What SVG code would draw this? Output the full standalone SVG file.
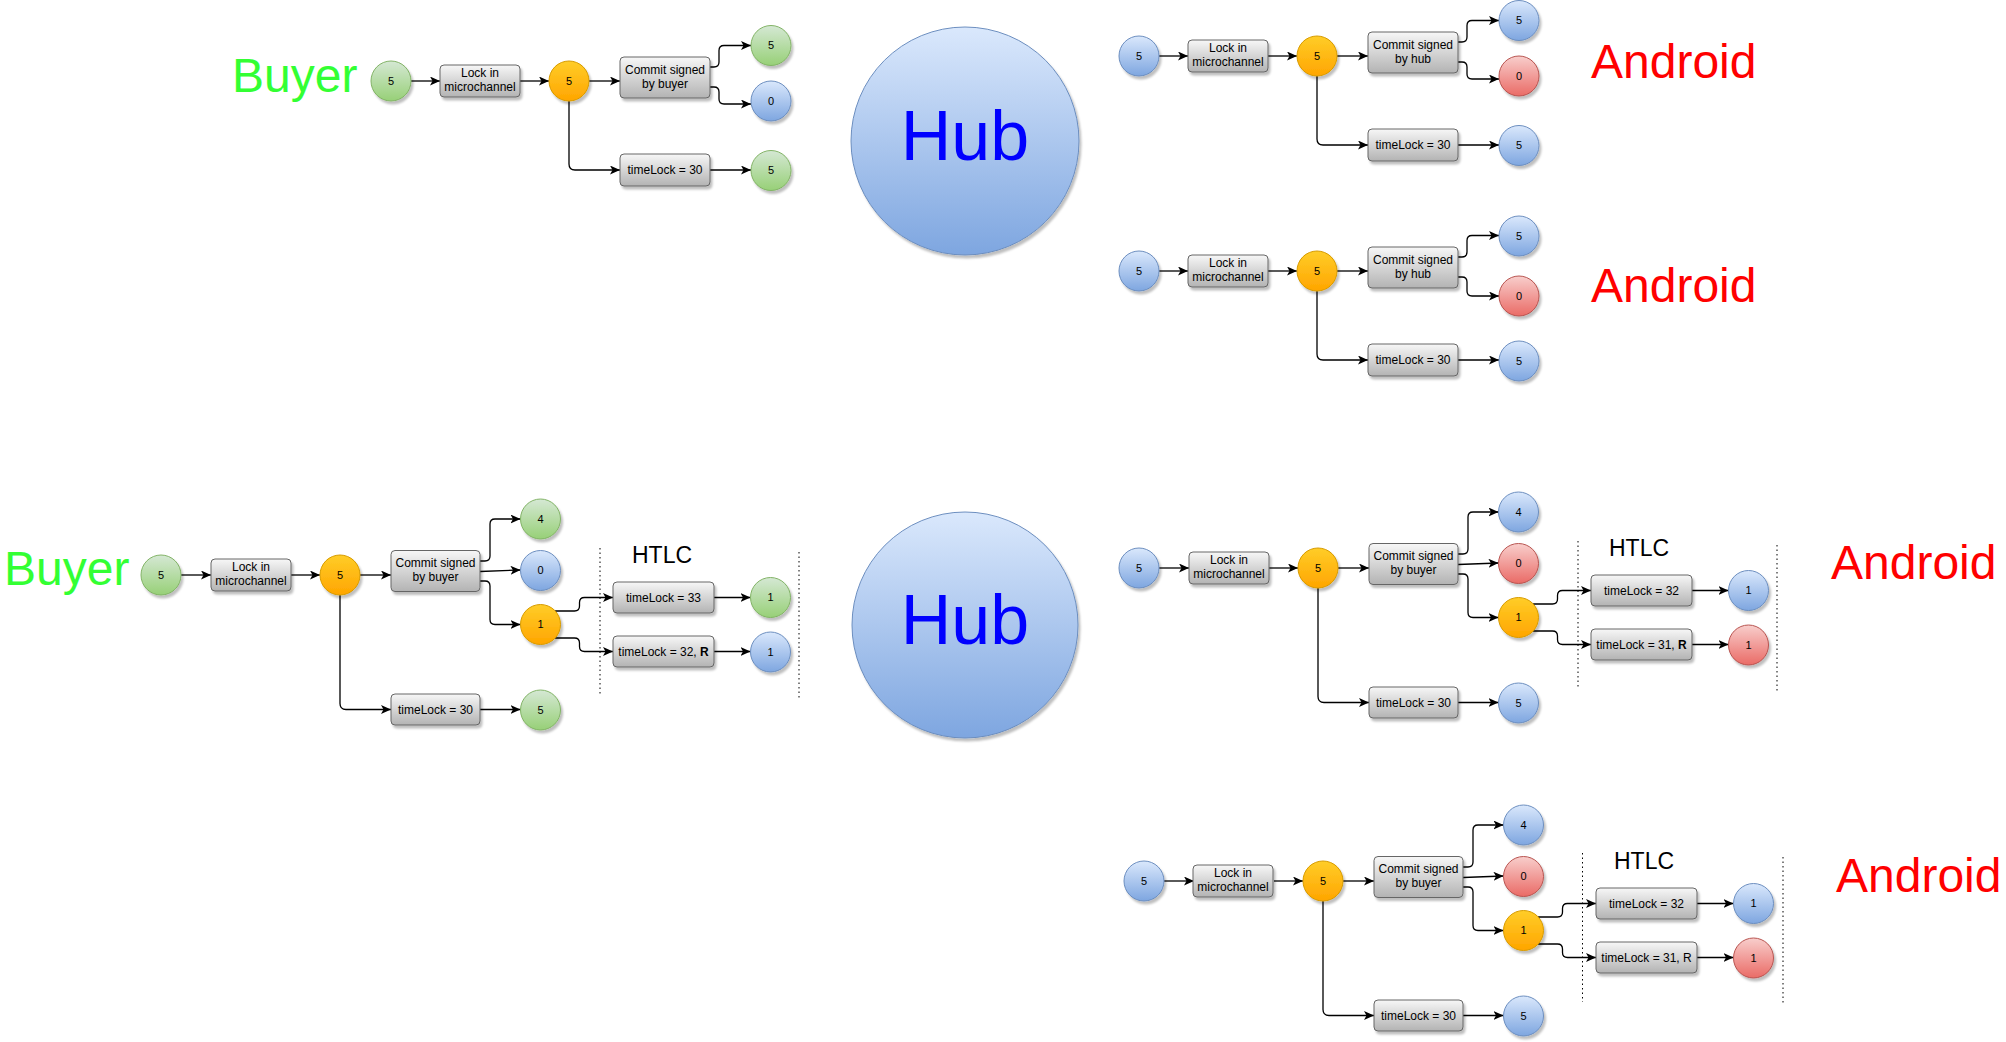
<svg xmlns="http://www.w3.org/2000/svg" width="2006" height="1042" viewBox="0 0 2006 1042">
<defs>
<linearGradient id="gGreen" x1="0" y1="0" x2="0" y2="1"><stop offset="0" stop-color="#d5e8d4"/><stop offset="1" stop-color="#97d077"/></linearGradient>
<linearGradient id="gBlue" x1="0" y1="0" x2="0" y2="1"><stop offset="0" stop-color="#dae8fc"/><stop offset="1" stop-color="#7ea6e0"/></linearGradient>
<linearGradient id="gRed" x1="0" y1="0" x2="0" y2="1"><stop offset="0" stop-color="#f8cecc"/><stop offset="1" stop-color="#ea6b66"/></linearGradient>
<linearGradient id="gOrange" x1="0" y1="0" x2="0" y2="1"><stop offset="0" stop-color="#ffcd28"/><stop offset="1" stop-color="#ffa500"/></linearGradient>
<linearGradient id="gGray" x1="0" y1="0" x2="0" y2="1"><stop offset="0" stop-color="#f7f7f7"/><stop offset="1" stop-color="#b3b3b3"/></linearGradient>
<filter id="sh" x="-20%" y="-20%" width="150%" height="150%"><feDropShadow dx="2" dy="3" stdDeviation="1.2" flood-color="#000" flood-opacity="0.25"/></filter>
<marker id="arr" markerUnits="userSpaceOnUse" markerWidth="11" markerHeight="9" refX="10" refY="4.5" orient="auto"><path d="M0,0 L10,4.5 L0,9 L2.5,4.5 Z" fill="#000"/></marker>
<style>
text{font-family:"Liberation Sans",Arial,Helvetica,sans-serif;fill:#000}
.e{fill:none;stroke:#000;stroke-width:1.3;marker-end:url(#arr)}
.e0{fill:none;stroke:#000;stroke-width:1.3}
.dot{fill:none;stroke:#000;stroke-width:1;stroke-dasharray:1.5 3}
.box{fill:url(#gGray);stroke:#666;stroke-width:1;filter:url(#sh)}
.gr{fill:url(#gGreen);stroke:#82b366;stroke-width:1;filter:url(#sh)}
.bl{fill:url(#gBlue);stroke:#6c8ebf;stroke-width:1;filter:url(#sh)}
.rd{fill:url(#gRed);stroke:#b85450;stroke-width:1;filter:url(#sh)}
.or{fill:url(#gOrange);stroke:#d79b00;stroke-width:1;filter:url(#sh)}
.ct{font-size:11px;text-anchor:middle}
.bt{font-size:12px;text-anchor:middle}
.big{font-size:48px}
.buyer{fill:#33ff33}
.android{fill:#ff0000}
.hub{font-size:70px;fill:#0000ff;text-anchor:middle}
.htlc{font-size:23px}
</style>
</defs>
<rect width="2006" height="1042" fill="#ffffff"/>

<!-- Labels -->
<g id="labels">
<text class="big buyer" x="232" y="92">Buyer</text>
<text class="big buyer" x="4" y="585">Buyer</text>
<text class="big android" x="1591" y="78">Android</text>
<text class="big android" x="1591" y="302">Android</text>
<text class="big android" x="1831" y="579">Android</text>
<text class="big android" x="1836" y="892">Android</text>
</g>

<!-- Hubs -->
<g id="hub-top"><circle class="bl" cx="965" cy="141" r="114"/><text class="hub" x="965" y="160">Hub</text></g>
<g id="hub-bottom"><circle class="bl" cx="965" cy="625" r="113"/><text class="hub" x="965" y="644">Hub</text></g>

<!-- Panel: Buyer top -->
<g id="panel-buyer-top" transform="translate(391,81)">
<g id="bt-connectors">
<path class="e" d="M20,0 H49"/>
<path class="e" d="M129,0 H158"/>
<path class="e" d="M198,0 H229"/>
<path class="e" d="M319,-14 H323 Q328,-14 328,-19 V-30.5 Q328,-35.5 333,-35.5 H360"/>
<path class="e" d="M319,6 H323 Q328,6 328,11 V18 Q328,23 333,23 H360"/>
<path class="e" d="M178,20 V83 Q178,89 184,89 H229"/>
<path class="e" d="M319,89 H360"/>
</g>
<g id="bt-start"><circle class="gr" cx="0" cy="0" r="20"/><text class="ct" x="0" y="3.5">5</text></g>
<g id="bt-lock"><rect class="box" x="49" y="-16" width="80" height="32" rx="4"/><text class="bt" x="89" y="-4">Lock in</text><text class="bt" x="89" y="10">microchannel</text></g>
<g id="bt-mid"><circle class="or" cx="178" cy="0" r="20"/><text class="ct" x="178" y="3.5">5</text></g>
<g id="bt-commit"><rect class="box" x="229" y="-24" width="90" height="41" rx="4"/><text class="bt" x="274" y="-7.5">Commit signed</text><text class="bt" x="274" y="6.5">by buyer</text></g>
<g id="bt-out1"><circle class="gr" cx="380" cy="-35.5" r="20"/><text class="ct" x="380" y="-32">5</text></g>
<g id="bt-out2"><circle class="bl" cx="380" cy="20" r="20"/><text class="ct" x="380" y="23.5">0</text></g>
<g id="bt-timelock"><rect class="box" x="229" y="73" width="90" height="32" rx="4"/><text class="bt" x="274" y="93">timeLock = 30</text></g>
<g id="bt-out3"><circle class="gr" cx="380" cy="89.5" r="20"/><text class="ct" x="380" y="93">5</text></g>
</g>

<!-- Panel: Android 1 -->
<g id="panel-android-1" transform="translate(1139,56)">
<g id="a1-connectors">
<path class="e" d="M20,0 H49"/>
<path class="e" d="M129,0 H158"/>
<path class="e" d="M198,0 H229"/>
<path class="e" d="M319,-14 H323 Q328,-14 328,-19 V-30.5 Q328,-35.5 333,-35.5 H360"/>
<path class="e" d="M319,6 H323 Q328,6 328,11 V18 Q328,23 333,23 H360"/>
<path class="e" d="M178,20 V83 Q178,89 184,89 H229"/>
<path class="e" d="M319,89 H360"/>
</g>
<g id="a1-start"><circle class="bl" cx="0" cy="0" r="20"/><text class="ct" x="0" y="3.5">5</text></g>
<g id="a1-lock"><rect class="box" x="49" y="-16" width="80" height="32" rx="4"/><text class="bt" x="89" y="-4">Lock in</text><text class="bt" x="89" y="10">microchannel</text></g>
<g id="a1-mid"><circle class="or" cx="178" cy="0" r="20"/><text class="ct" x="178" y="3.5">5</text></g>
<g id="a1-commit"><rect class="box" x="229" y="-24" width="90" height="41" rx="4"/><text class="bt" x="274" y="-7.5">Commit signed</text><text class="bt" x="274" y="6.5">by hub</text></g>
<g id="a1-out1"><circle class="bl" cx="380" cy="-35.5" r="20"/><text class="ct" x="380" y="-32">5</text></g>
<g id="a1-out2"><circle class="rd" cx="380" cy="20" r="20"/><text class="ct" x="380" y="23.5">0</text></g>
<g id="a1-timelock"><rect class="box" x="229" y="73" width="90" height="32" rx="4"/><text class="bt" x="274" y="93">timeLock = 30</text></g>
<g id="a1-out3"><circle class="bl" cx="380" cy="89.5" r="20"/><text class="ct" x="380" y="93">5</text></g>
</g>

<!-- Panel: Android 2 -->
<g id="panel-android-2" transform="translate(1139,271)">
<g id="a2-connectors">
<path class="e" d="M20,0 H49"/>
<path class="e" d="M129,0 H158"/>
<path class="e" d="M198,0 H229"/>
<path class="e" d="M319,-14 H323 Q328,-14 328,-19 V-30.5 Q328,-35.5 333,-35.5 H360"/>
<path class="e" d="M319,6 H323 Q328,6 328,11 V20 Q328,25 333,25 H360"/>
<path class="e" d="M178,20 V83 Q178,89 184,89 H229"/>
<path class="e" d="M319,89 H360"/>
</g>
<g id="a2-start"><circle class="bl" cx="0" cy="0" r="20"/><text class="ct" x="0" y="3.5">5</text></g>
<g id="a2-lock"><rect class="box" x="49" y="-16" width="80" height="32" rx="4"/><text class="bt" x="89" y="-4">Lock in</text><text class="bt" x="89" y="10">microchannel</text></g>
<g id="a2-mid"><circle class="or" cx="178" cy="0" r="20"/><text class="ct" x="178" y="3.5">5</text></g>
<g id="a2-commit"><rect class="box" x="229" y="-24" width="90" height="41" rx="4"/><text class="bt" x="274" y="-7.5">Commit signed</text><text class="bt" x="274" y="6.5">by hub</text></g>
<g id="a2-out1"><circle class="bl" cx="380" cy="-35" r="20"/><text class="ct" x="380" y="-31.5">5</text></g>
<g id="a2-out2"><circle class="rd" cx="380" cy="25" r="20"/><text class="ct" x="380" y="28.5">0</text></g>
<g id="a2-timelock"><rect class="box" x="229" y="73" width="90" height="32" rx="4"/><text class="bt" x="274" y="93">timeLock = 30</text></g>
<g id="a2-out3"><circle class="bl" cx="380" cy="90" r="20"/><text class="ct" x="380" y="93.5">5</text></g>
</g>

<!-- Panel: Buyer bottom (HTLC) -->
<g id="panel-buyer-bottom" transform="translate(161,575)">
<g id="bb-connectors">
<path class="e" d="M20,0 H50"/>
<path class="e" d="M130,0 H159"/>
<path class="e" d="M199,0 H230"/>
<path class="e" d="M319,-14 H324 Q329,-14 329,-19 V-51 Q329,-56 334,-56 H359.5"/>
<path class="e" d="M319,-3.5 L359.5,-5"/>
<path class="e" d="M319,6 H324 Q329,6 329,11 V44.5 Q329,49.5 334,49.5 H359.5"/>
<path class="e" d="M394,36 H413.5 Q418.5,36 418.5,31 V27.5 Q418.5,22.5 423.5,22.5 H452"/>
<path class="e" d="M394,63 H413.5 Q418.5,63 418.5,68 V71.5 Q418.5,76.5 423.5,76.5 H452"/>
<path class="e" d="M553,22.5 H589.5"/>
<path class="e" d="M553,76.5 H589.5"/>
<path class="e" d="M179,20 V128.5 Q179,134.5 185,134.5 H230"/>
<path class="e" d="M319,134.5 H359.5"/>
</g>
<g id="bb-htlc"><path class="dot" d="M439,-27 V120"/><path class="dot" d="M638,-23 V123"/><text class="htlc" x="471" y="-12">HTLC</text></g>
<g id="bb-start"><circle class="gr" cx="0" cy="0" r="20"/><text class="ct" x="0" y="3.5">5</text></g>
<g id="bb-lock"><rect class="box" x="50" y="-16" width="80" height="32" rx="4"/><text class="bt" x="90" y="-4">Lock in</text><text class="bt" x="90" y="10">microchannel</text></g>
<g id="bb-mid"><circle class="or" cx="179" cy="0" r="20"/><text class="ct" x="179" y="3.5">5</text></g>
<g id="bb-commit"><rect class="box" x="230" y="-24.5" width="89" height="41" rx="4"/><text class="bt" x="274.5" y="-8">Commit signed</text><text class="bt" x="274.5" y="6">by buyer</text></g>
<g id="bb-out4"><circle class="gr" cx="379.5" cy="-56" r="20"/><text class="ct" x="379.5" y="-52.5">4</text></g>
<g id="bb-out0"><circle class="bl" cx="379.5" cy="-4.5" r="20"/><text class="ct" x="379.5" y="-1">0</text></g>
<g id="bb-out1"><circle class="or" cx="379.5" cy="49.5" r="20"/><text class="ct" x="379.5" y="53">1</text></g>
<g id="bb-tlA"><rect class="box" x="452" y="7" width="101" height="31" rx="4"/><text class="bt" x="502.5" y="26.5">timeLock = 33</text></g>
<g id="bb-fA"><circle class="gr" cx="609.5" cy="22.5" r="20"/><text class="ct" x="609.5" y="26">1</text></g>
<g id="bb-tlB"><rect class="box" x="452" y="61" width="101" height="31" rx="4"/><text class="bt" x="502.5" y="80.5">timeLock = 32, <tspan font-weight="bold">R</tspan></text></g>
<g id="bb-fB"><circle class="bl" cx="609.5" cy="77" r="20"/><text class="ct" x="609.5" y="80.5">1</text></g>
<g id="bb-tlC"><rect class="box" x="230" y="119" width="89" height="31" rx="4"/><text class="bt" x="274.5" y="138.5">timeLock = 30</text></g>
<g id="bb-fC"><circle class="gr" cx="379.5" cy="135" r="20"/><text class="ct" x="379.5" y="138.5">5</text></g>
</g>

<!-- Panel: Android 3 (HTLC) -->
<g id="panel-android-3" transform="translate(1139,568)">
<g id="a3-connectors">
<path class="e" d="M20,0 H50"/>
<path class="e" d="M130,0 H159"/>
<path class="e" d="M199,0 H230"/>
<path class="e" d="M319,-14 H324 Q329,-14 329,-19 V-51 Q329,-56 334,-56 H359.5"/>
<path class="e" d="M319,-3.5 L359.5,-5"/>
<path class="e" d="M319,6 H324 Q329,6 329,11 V44.5 Q329,49.5 334,49.5 H359.5"/>
<path class="e" d="M394,36 H413.5 Q418.5,36 418.5,31 V27.5 Q418.5,22.5 423.5,22.5 H452"/>
<path class="e" d="M394,63 H413.5 Q418.5,63 418.5,68 V71.5 Q418.5,76.5 423.5,76.5 H452"/>
<path class="e" d="M553,22.5 H589.5"/>
<path class="e" d="M553,76.5 H589.5"/>
<path class="e" d="M179,20 V128.5 Q179,134.5 185,134.5 H230"/>
<path class="e" d="M319,134.5 H359.5"/>
</g>
<g id="a3-htlc"><path class="dot" d="M439,-27 V120"/><path class="dot" d="M638,-23 V123"/><text class="htlc" x="470" y="-12">HTLC</text></g>
<g id="a3-start"><circle class="bl" cx="0" cy="0" r="20"/><text class="ct" x="0" y="3.5">5</text></g>
<g id="a3-lock"><rect class="box" x="50" y="-16" width="80" height="32" rx="4"/><text class="bt" x="90" y="-4">Lock in</text><text class="bt" x="90" y="10">microchannel</text></g>
<g id="a3-mid"><circle class="or" cx="179" cy="0" r="20"/><text class="ct" x="179" y="3.5">5</text></g>
<g id="a3-commit"><rect class="box" x="230" y="-24.5" width="89" height="41" rx="4"/><text class="bt" x="274.5" y="-8">Commit signed</text><text class="bt" x="274.5" y="6">by buyer</text></g>
<g id="a3-out4"><circle class="bl" cx="379.5" cy="-56" r="20"/><text class="ct" x="379.5" y="-52.5">4</text></g>
<g id="a3-out0"><circle class="rd" cx="379.5" cy="-4.5" r="20"/><text class="ct" x="379.5" y="-1">0</text></g>
<g id="a3-out1"><circle class="or" cx="379.5" cy="49.5" r="20"/><text class="ct" x="379.5" y="53">1</text></g>
<g id="a3-tlA"><rect class="box" x="452" y="7" width="101" height="31" rx="4"/><text class="bt" x="502.5" y="26.5">timeLock = 32</text></g>
<g id="a3-fA"><circle class="bl" cx="609.5" cy="22.5" r="20"/><text class="ct" x="609.5" y="26">1</text></g>
<g id="a3-tlB"><rect class="box" x="452" y="61" width="101" height="31" rx="4"/><text class="bt" x="502.5" y="80.5">timeLock = 31, <tspan font-weight="bold">R</tspan></text></g>
<g id="a3-fB"><circle class="rd" cx="609.5" cy="77" r="20"/><text class="ct" x="609.5" y="80.5">1</text></g>
<g id="a3-tlC"><rect class="box" x="230" y="119" width="89" height="31" rx="4"/><text class="bt" x="274.5" y="138.5">timeLock = 30</text></g>
<g id="a3-fC"><circle class="bl" cx="379.5" cy="135" r="20"/><text class="ct" x="379.5" y="138.5">5</text></g>
</g>

<!-- Panel: Android 4 (HTLC) -->
<g id="panel-android-4" transform="translate(1144,881)">
<g id="a4-connectors">
<path class="e" d="M20,0 H50"/>
<path class="e" d="M130,0 H159"/>
<path class="e" d="M199,0 H230"/>
<path class="e" d="M319,-14 H324 Q329,-14 329,-19 V-51 Q329,-56 334,-56 H359.5"/>
<path class="e" d="M319,-3.5 L359.5,-5"/>
<path class="e" d="M319,6 H324 Q329,6 329,11 V44.5 Q329,49.5 334,49.5 H359.5"/>
<path class="e" d="M394,36 H413.5 Q418.5,36 418.5,31 V27.5 Q418.5,22.5 423.5,22.5 H452"/>
<path class="e" d="M394,63 H413.5 Q418.5,63 418.5,68 V71.5 Q418.5,76.5 423.5,76.5 H452"/>
<path class="e" d="M553,22.5 H589.5"/>
<path class="e" d="M553,76.5 H589.5"/>
<path class="e" d="M179,20 V128.5 Q179,134.5 185,134.5 H230"/>
<path class="e" d="M319,134.5 H359.5"/>
</g>
<g id="a4-htlc"><path class="dot" d="M438.5,-28 V121"/><path class="dot" d="M639,-24 V123"/><text class="htlc" x="470" y="-12">HTLC</text></g>
<g id="a4-start"><circle class="bl" cx="0" cy="0" r="20"/><text class="ct" x="0" y="3.5">5</text></g>
<g id="a4-lock"><rect class="box" x="49" y="-16" width="80" height="32" rx="4"/><text class="bt" x="89" y="-4">Lock in</text><text class="bt" x="89" y="10">microchannel</text></g>
<g id="a4-mid"><circle class="or" cx="179" cy="0" r="20"/><text class="ct" x="179" y="3.5">5</text></g>
<g id="a4-commit"><rect class="box" x="230" y="-24.5" width="89" height="41" rx="4"/><text class="bt" x="274.5" y="-8">Commit signed</text><text class="bt" x="274.5" y="6">by buyer</text></g>
<g id="a4-out4"><circle class="bl" cx="379.5" cy="-56" r="20"/><text class="ct" x="379.5" y="-52.5">4</text></g>
<g id="a4-out0"><circle class="rd" cx="379.5" cy="-4.5" r="20"/><text class="ct" x="379.5" y="-1">0</text></g>
<g id="a4-out1"><circle class="or" cx="379.5" cy="49.5" r="20"/><text class="ct" x="379.5" y="53">1</text></g>
<g id="a4-tlA"><rect class="box" x="452" y="7" width="101" height="31" rx="4"/><text class="bt" x="502.5" y="26.5">timeLock = 32</text></g>
<g id="a4-fA"><circle class="bl" cx="609.5" cy="22.5" r="20"/><text class="ct" x="609.5" y="26">1</text></g>
<g id="a4-tlB"><rect class="box" x="452" y="61" width="101" height="31" rx="4"/><text class="bt" x="502.5" y="80.5">timeLock = 31, R</text></g>
<g id="a4-fB"><circle class="rd" cx="609.5" cy="77" r="20"/><text class="ct" x="609.5" y="80.5">1</text></g>
<g id="a4-tlC"><rect class="box" x="230" y="119" width="89" height="31" rx="4"/><text class="bt" x="274.5" y="138.5">timeLock = 30</text></g>
<g id="a4-fC"><circle class="bl" cx="379.5" cy="135" r="20"/><text class="ct" x="379.5" y="138.5">5</text></g>
</g>
</svg>
